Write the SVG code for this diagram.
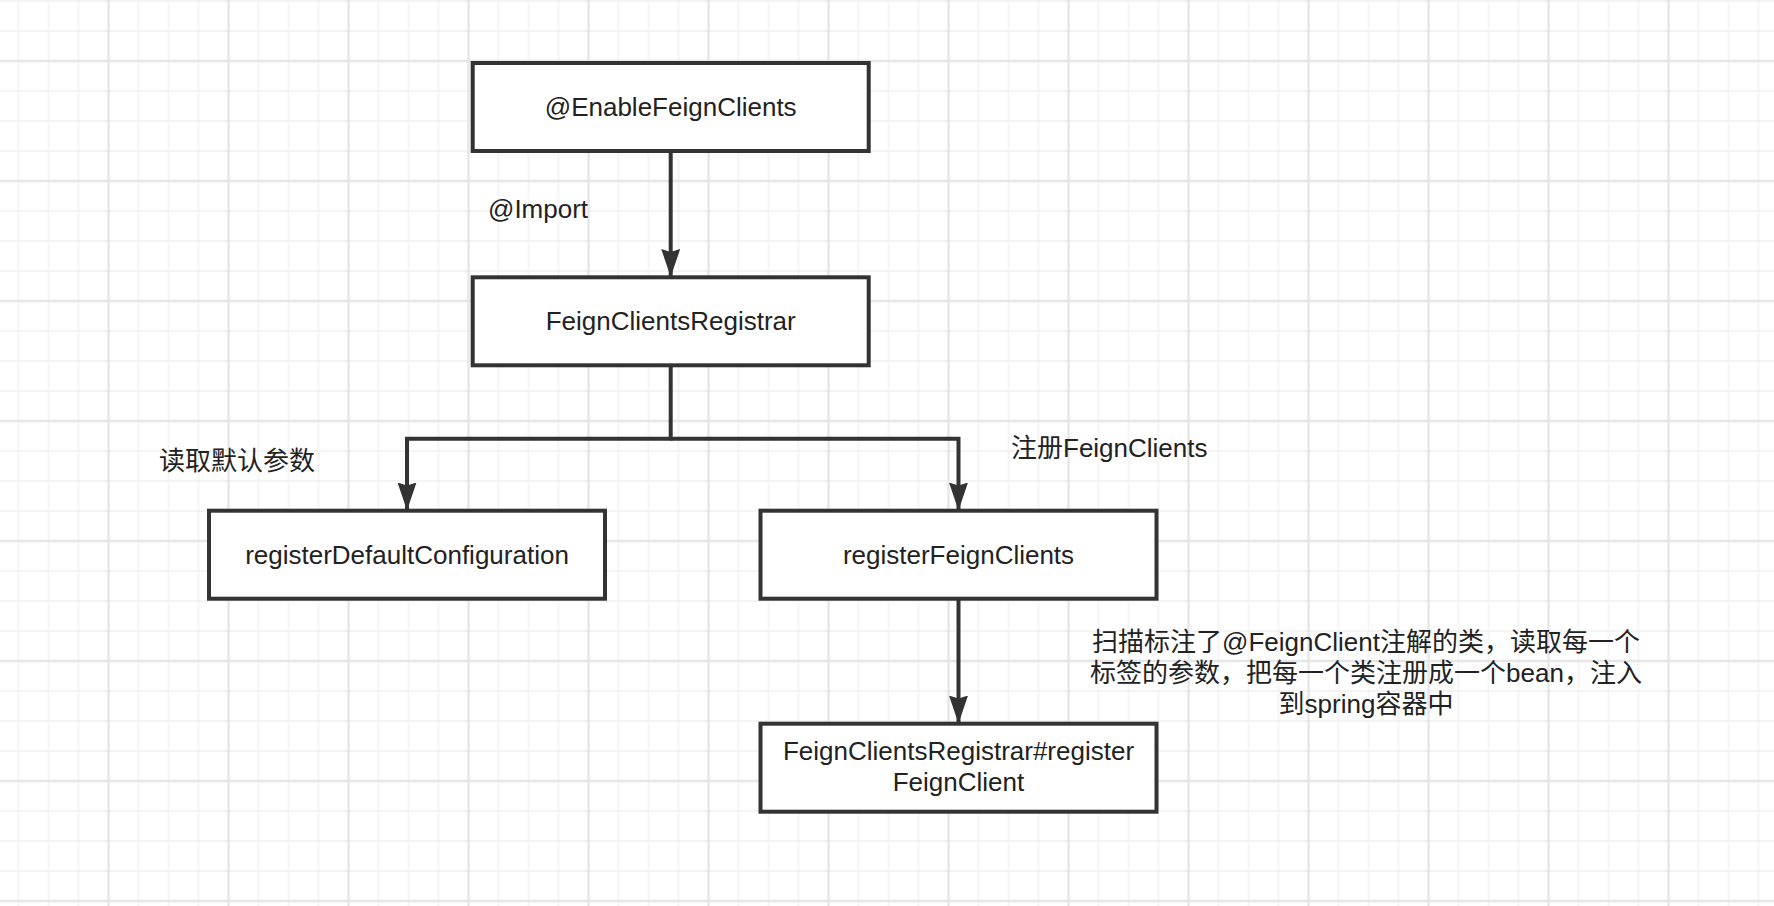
<svg xmlns="http://www.w3.org/2000/svg" width="1774" height="906" viewBox="0 0 1774 906">
  <style>
    .box { fill: #ffffff; stroke: #333333; stroke-width: 4; }
    .edge { fill: none; stroke: #333333; stroke-width: 4; stroke-linejoin: miter; }
    .t { font-family: "Liberation Sans", Arial, "Noto Sans CJK SC", sans-serif; font-size: 26px; fill: #222222; }
    .c { text-anchor: middle; }
  </style>
  <defs>
    <pattern id="minor" patternUnits="userSpaceOnUse" x="3.5" y="-14" width="30" height="30">
      <path d="M15,0 V30 M0,15 H30" stroke="#f1f1f1" stroke-width="1.4" fill="none"/>
    </pattern>
    <pattern id="major" patternUnits="userSpaceOnUse" x="48.5" y="1" width="120" height="120">
      <path d="M60,0 V120 M0,60 H120" stroke="#e6e6e6" stroke-width="2.4" fill="none"/>
    </pattern>
    <marker id="arrow" viewBox="0 0 28 19" refX="27" refY="9.5" markerWidth="28" markerHeight="19" markerUnits="userSpaceOnUse" orient="auto">
      <path d="M0,0 L28,9.5 L0,19 L3,9.5 Z" fill="#333333"/>
    </marker>
  </defs>

  <g id="grid">
    <rect x="0" y="0" width="1774" height="906" fill="#ffffff"/>
    <rect x="0" y="0" width="1774" height="906" fill="url(#minor)"/>
    <rect x="0" y="0" width="1774" height="906" fill="url(#major)"/>
  </g>

  <g id="connectors">
    <path class="edge" d="M670.7,151 V276" marker-end="url(#arrow)"/>
    <path class="edge" d="M670.7,365 V438.7 H407 V509.5" marker-end="url(#arrow)"/>
    <path class="edge" d="M670.7,438.7 H958.5 V509.5" marker-end="url(#arrow)"/>
    <path class="edge" d="M958.5,599 V722.5" marker-end="url(#arrow)"/>
  </g>

  <g id="edge-labels">
    <text class="t" x="488" y="218">@Import</text>
    <text class="t" x="159" y="470">读取默认参数</text>
    <text class="t" x="1011" y="457">注册FeignClients</text>
    <text class="t c" x="1366" y="651">扫描标注了@FeignClient注解的类，读取每一个</text>
    <text class="t c" x="1366" y="682">标签的参数，把每一个类注册成一个bean，注入</text>
    <text class="t c" x="1366" y="713">到spring容器中</text>
  </g>

  <g id="enableFeignClients">
    <rect class="box" x="472.7" y="63" width="396" height="88"/>
    <text class="t c" x="670.7" y="116">@EnableFeignClients</text>
  </g>

  <g id="feignClientsRegistrar">
    <rect class="box" x="472.7" y="277.3" width="396" height="88"/>
    <text class="t c" x="670.7" y="330">FeignClientsRegistrar</text>
  </g>

  <g id="registerDefaultConfiguration">
    <rect class="box" x="209" y="510.7" width="396" height="88"/>
    <text class="t c" x="407" y="563.5">registerDefaultConfiguration</text>
  </g>

  <g id="registerFeignClients">
    <rect class="box" x="760.5" y="510.7" width="396" height="88"/>
    <text class="t c" x="958.5" y="563.5">registerFeignClients</text>
  </g>

  <g id="registerFeignClient">
    <rect class="box" x="760.5" y="723.7" width="396" height="88"/>
    <text class="t c" x="958.5" y="759.5">FeignClientsRegistrar#register</text>
    <text class="t c" x="958.5" y="791">FeignClient</text>
  </g>
</svg>
